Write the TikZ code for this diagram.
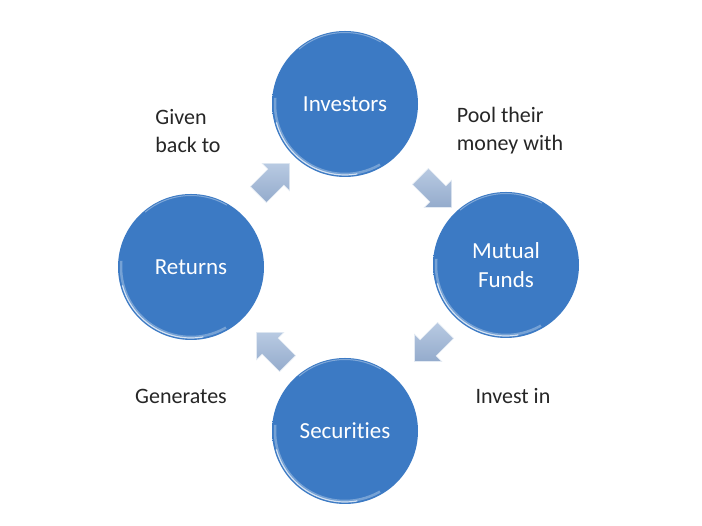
\documentclass[tikz,border=0pt]{standalone}
\usepackage{fontspec}
\setmainfont{Carlito}[Ligatures=NoCommon]
\usetikzlibrary{shapes.arrows}
\definecolor{bA}{HTML}{3C7AC4}
\definecolor{bM}{HTML}{3570BA}
\definecolor{bB}{HTML}{2B62A8}
\definecolor{bC}{HTML}{1E4E8E}
\definecolor{arrA}{HTML}{B8CAE2}
\definecolor{arrB}{HTML}{94ABCC}
\definecolor{labc}{HTML}{262626}
\pgfdeclareradialshading{ballblue}{\pgfpoint{0bp}{0bp}}{color(0bp)=(bA); color(28bp)=(bA); color(40bp)=(bM); color(47bp)=(bB); color(50bp)=(bC)}
\tikzset{
  ball/.style={circle, minimum size=146pt, inner sep=0pt, shading=ballblue, text=white, align=center, font=\fontsize{23}{29}\selectfont},
  blockarrow/.style={single arrow, minimum height=44pt, inner sep=0pt, single arrow head extend=8pt, single arrow head indent=0pt, top color=arrA, bottom color=arrB, draw=white!60!arrA, line width=0.6pt},
  lab/.style={text=labc, align=left, font=\fontsize{22}{28}\selectfont}
}
\newcommand{\shaftbox}{\rule{0pt}{22pt}}
\begin{document}
\begin{tikzpicture}[x=1pt,y=1pt]
\useasboundingbox[fill=white] (0,0) rectangle (702,526);
\node[ball] (inv) at (345,422) {Investors};
\node[ball] (mf) at (506,261) {Mutual\\Funds};
\node[ball] (sec) at (345,95) {Securities};
\node[ball] (ret) at (191,259) {Returns};
\foreach \n in {inv,mf,sec,ret}{
  \draw[white, opacity=0.3, line width=2.5pt] ([shift={(175:70pt)}]\n.center) arc[start angle=175, end angle=300, radius=70pt];
  \draw[white, opacity=0.7, line width=1.2pt] ([shift={(195:71pt)}]\n.center) arc[start angle=195, end angle=280, radius=71pt];
  \draw[white, opacity=0.35, line width=1pt] ([shift={(60:71.5pt)}]\n.center) arc[start angle=60, end angle=130, radius=71.5pt];
}
\node[blockarrow, rotate=45] (a1) at (270,343) {\shaftbox};
\node[blockarrow, rotate=-45] (a2) at (432,338) {\shaftbox};
\node[blockarrow, rotate=-135] (a3) at (434,184) {\shaftbox};
\node[blockarrow, rotate=135] (a4) at (276,174) {\shaftbox};
\node[lab] (l1) at (188,395) {Given\\back to};
\node[lab] (l2) at (510,395) {Pool their\\money with};
\node[lab] (l3) at (181,130) {Generates};
\node[lab] (l4) at (513,130) {Invest in};
\end{tikzpicture}
\end{document}
